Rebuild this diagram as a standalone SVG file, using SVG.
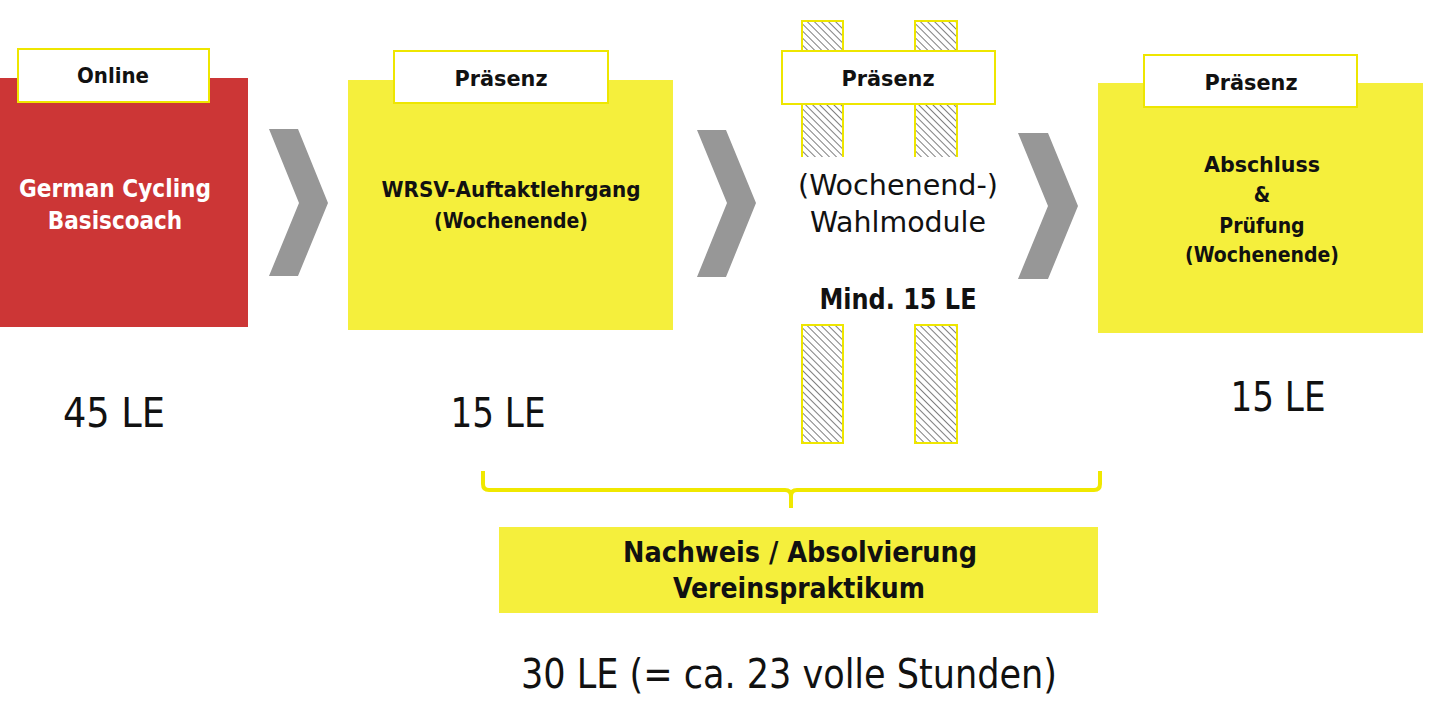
<svg xmlns="http://www.w3.org/2000/svg" width="1440" height="720" viewBox="0 0 1440 720">
<defs>
<pattern id="hatch" width="5" height="5" patternUnits="userSpaceOnUse" patternTransform="rotate(-45)">
<rect width="5" height="5" fill="#ffffff"/>
<line x1="0" y1="0" x2="0" y2="5" stroke="#5e5e5e" stroke-width="1.6"/>
</pattern>
<style>
text{font-family:"Liberation Sans Narrow","DejaVu Sans Condensed","Liberation Sans",sans-serif;text-anchor:middle;fill:#111}
.tag{fill:#ffffff;stroke:#eee600;stroke-width:2}
.tagt{font-size:22px;font-weight:bold}
.red{fill:#cc3636}
.yel{fill:#f5ef3c}
.chev{fill:#979797}
.bar{fill:url(#hatch);stroke:#eee600;stroke-width:2}
.big{font-size:40px}
.bt{font-size:21px;font-weight:bold}
.mid{font-size:29px}
</style>
</defs>
<rect width="1440" height="720" fill="#ffffff"/>

<g id="node-online">
<rect class="red" x="0" y="78" width="248" height="249"/>
<rect class="tag" x="18" y="49" width="191" height="53"/>
<text class="tagt" x="113" y="83">Online</text>
<text class="bt" x="115" y="197" style="fill:#fff;font-size:24px" textLength="192" lengthAdjust="spacingAndGlyphs">German Cycling</text>
<text class="bt" x="115" y="229" style="fill:#fff;font-size:24px">Basiscoach</text>
<text class="big" x="114" y="427" textLength="102" lengthAdjust="spacingAndGlyphs">45 LE</text>
</g>

<g id="node-auftakt">
<rect class="yel" x="348" y="80" width="325" height="250"/>
<rect class="tag" x="394" y="51" width="214" height="52"/>
<text class="tagt" x="501" y="86" textLength="93" lengthAdjust="spacingAndGlyphs">Präsenz</text>
<text class="bt" x="511" y="197" textLength="259" lengthAdjust="spacingAndGlyphs">WRSV-Auftaktlehrgang</text>
<text class="bt" x="511" y="228">(Wochenende)</text>
<text class="big" x="498" y="427" textLength="95" lengthAdjust="spacingAndGlyphs">15 LE</text>
</g>

<g id="node-wahlmodule">
<rect class="bar" x="802" y="21" width="41" height="140"/>
<rect class="bar" x="915" y="21" width="42" height="140"/>
<rect class="bar" x="802" y="325" width="41" height="118"/>
<rect class="bar" x="915" y="325" width="42" height="118"/>
<rect x="801" y="157" width="43" height="12" fill="#fff"/>
<rect x="914" y="157" width="44" height="12" fill="#fff"/>
<rect class="tag" x="782" y="51" width="213" height="53"/>
<text class="tagt" x="888" y="86" textLength="93" lengthAdjust="spacingAndGlyphs">Präsenz</text>
<text class="mid" x="898" y="195" textLength="200" lengthAdjust="spacingAndGlyphs">(Wochenend-)</text>
<text class="mid" x="898" y="232" textLength="176" lengthAdjust="spacingAndGlyphs">Wahlmodule</text>
<text class="mid" x="898" y="309" style="font-weight:bold" textLength="157" lengthAdjust="spacingAndGlyphs">Mind. 15 LE</text>
</g>

<g id="node-abschluss">
<rect class="yel" x="1098" y="83" width="325" height="250"/>
<rect class="tag" x="1144" y="55" width="213" height="52"/>
<text class="tagt" x="1251" y="90" textLength="93" lengthAdjust="spacingAndGlyphs">Präsenz</text>
<text class="bt" x="1262" y="172" textLength="116" lengthAdjust="spacingAndGlyphs">Abschluss</text>
<text class="bt" x="1262" y="202">&amp;</text>
<text class="bt" x="1262" y="233">Prüfung</text>
<text class="bt" x="1262" y="262">(Wochenende)</text>
<text class="big" x="1278" y="411" textLength="95" lengthAdjust="spacingAndGlyphs">15 LE</text>
</g>

<g id="node-praktikum">
<rect class="yel" x="499" y="527" width="599" height="86"/>
<text x="800" y="562" style="font-size:28px;font-weight:bold" textLength="354" lengthAdjust="spacingAndGlyphs">Nachweis / Absolvierung</text>
<text x="799" y="598" style="font-size:28px;font-weight:bold" textLength="252" lengthAdjust="spacingAndGlyphs">Vereinspraktikum</text>
<text class="big" x="789" y="688" textLength="536" lengthAdjust="spacingAndGlyphs">30 LE (= ca. 23 volle Stunden)</text>
</g>

<g id="connectors">
<polygon class="chev" points="269,129 298,129 328,203 298,276 269,276 299,203"/>
<polygon class="chev" points="697,130 726,130 756,203 726,277 697,277 727,203"/>
<polygon class="chev" points="1018,133 1048,133 1078,206 1048,279 1018,279 1048,206"/>
<path d="M483,471 V484 Q483,490 489,490 H785 Q791,490 791,496 V508 M791,496 Q791,490 797,490 H1094 Q1100,490 1100,484 V471" fill="none" stroke="#f0e800" stroke-width="4"/>
</g>
</svg>
